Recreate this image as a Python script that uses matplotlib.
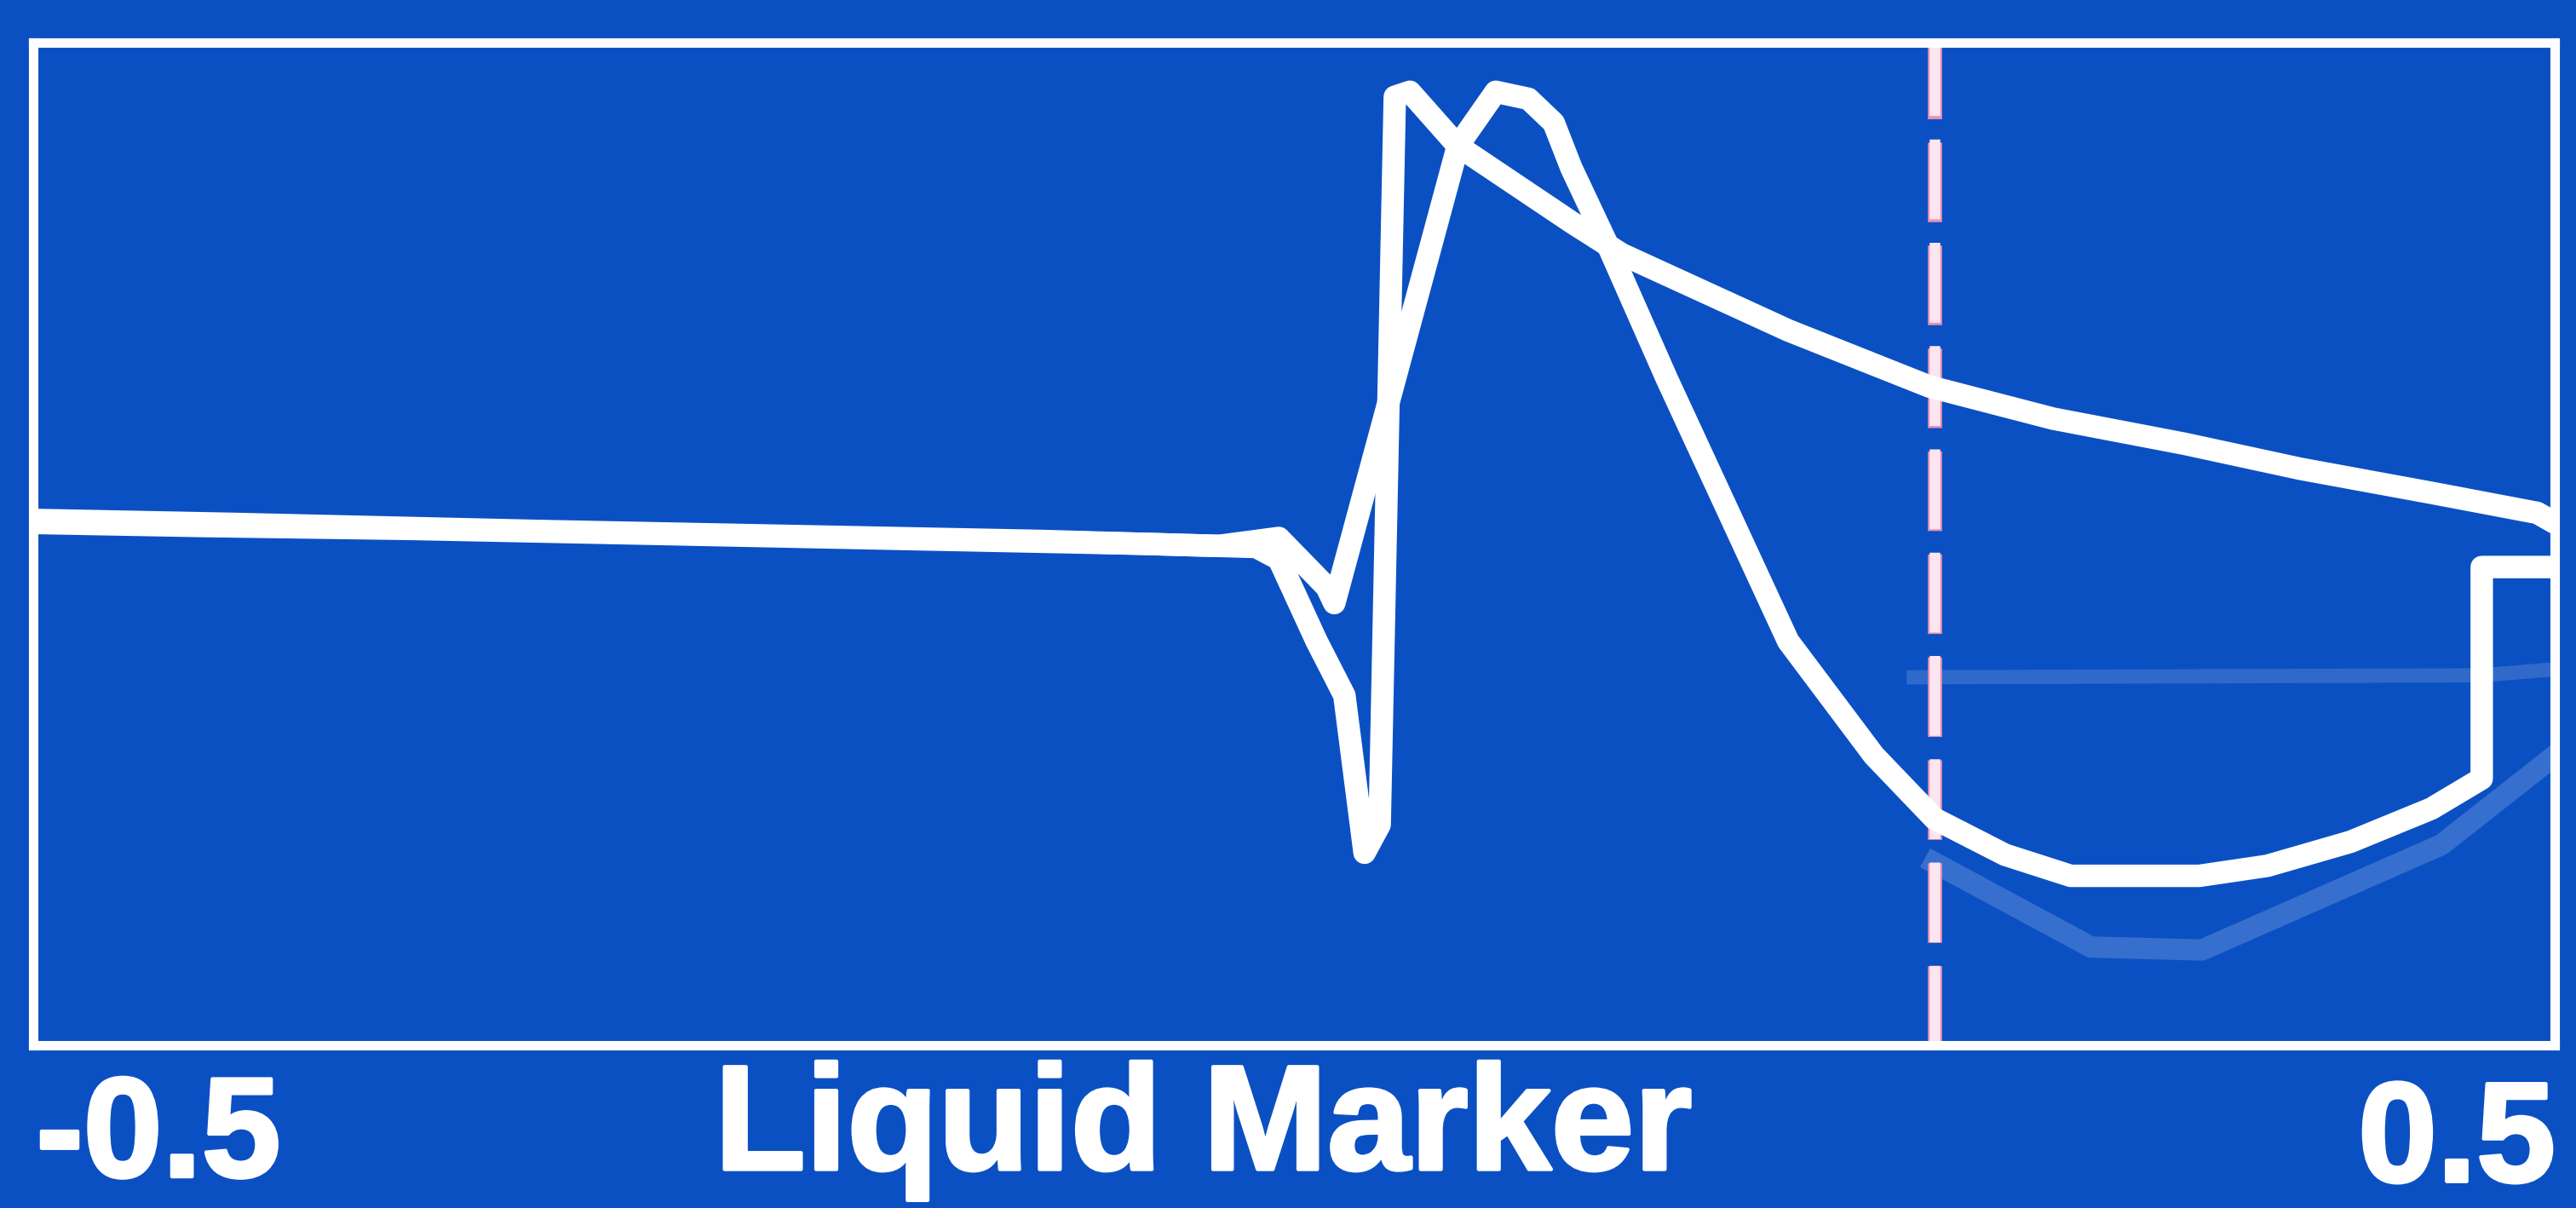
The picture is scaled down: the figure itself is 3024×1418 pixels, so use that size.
import matplotlib.pyplot as plt
import matplotlib.patheffects as pe

# screen trace (x: marker position, y: signal in % of frame height)
trace_a_x = [-0.500, -0.435, -0.350, -0.252, -0.155, -0.057, -0.015, -0.006, 0.009, 0.020,
             0.028, 0.034, 0.040, 0.046, 0.065, 0.110, 0.130, 0.196, 0.252, 0.301,
             0.353, 0.399, 0.451, 0.493, 0.500]
trace_a_y = [52.1, 51.8, 51.5, 51.0, 50.5, 50.0, 49.7, 48.5, 40.3, 34.9,
             19.2, 22.0, 94.6, 95.1, 89.7, 82.1, 78.9, 71.3, 65.7, 62.5,
             60.0, 57.5, 55.1, 53.1, 52.1]

trace_b_x = [-0.500, -0.420, -0.300, -0.200, -0.100, -0.030, -0.006, 0.013, 0.016, 0.065,
             0.080, 0.093, 0.103, 0.110, 0.125, 0.148, 0.171, 0.196, 0.230, 0.254,
             0.282, 0.308, 0.359, 0.386, 0.419, 0.451, 0.471, 0.471, 0.500]
trace_b_y = [52.4, 52.0, 51.3, 50.8, 50.3, 49.8, 50.6, 45.7, 44.1, 89.7,
             95.1, 94.4, 92.0, 87.5, 79.5, 66.4, 53.9, 40.3, 28.9, 22.6,
             19.0, 16.9, 16.9, 17.9, 20.3, 23.6, 26.6, 47.7, 47.7]

# faded ghost traces left on the screen
ghost_band_x = [0.243, 0.471, 0.500]
ghost_band_y = [36.7, 36.9, 37.5]
ghost_low_x = [0.254, 0.316, 0.360, 0.455, 0.500]
ghost_low_y = [18.2, 9.8, 9.5, 20.0, 28.9]

marker_x = 0.254
x_min_label, x_max_label = "-0.5", "0.5"
axis_title = "Liquid Marker"

bg = "#0b50c3"
fig = plt.figure(figsize=(30.24, 14.18), dpi=100, facecolor=bg)
ax = fig.add_axes([0.0128, 0.1347, 0.979, 0.830], facecolor=bg)

ax.plot(ghost_band_x, ghost_band_y, color="white", lw=12, alpha=0.15, solid_capstyle="butt")
ax.plot(ghost_low_x, ghost_low_y, color="white", lw=18, alpha=0.18, solid_joinstyle="round")

# marker: pink edge under a whitish core, same dash length in points
ax.axvline(marker_x, color="#e98fb3", lw=12, linestyle=(0, (5.6, 1.65)), zorder=2)
ax.axvline(marker_x, color="#fbe6ef", lw=9, linestyle=(0, (7.5, 2.2)), zorder=2)

for xs, ys in [(trace_a_x, trace_a_y), (trace_b_x, trace_b_y)]:
    ax.plot(xs, ys, color="white", lw=19, solid_joinstyle="round",
            solid_capstyle="round", zorder=3)

ax.set_xlim(-0.5, 0.5)
ax.set_ylim(0, 100)
ax.set_xticks([])
ax.set_yticks([])
for s in ax.spines.values():
    s.set_color("white")
    s.set_linewidth(8)

fam = ["Liberation Sans", "DejaVu Sans"]
glow = [pe.withStroke(linewidth=3, foreground="white")]
fig.text(0.014, 0.026, x_min_label, color="white", fontsize=120, fontweight="bold",
         family=fam, ha="left", va="baseline", path_effects=glow)
fig.text(0.2774, 0.032, axis_title, color="white", fontsize=126, fontweight="bold",
         family=fam, ha="left", va="baseline", path_effects=glow)
fig.text(0.992, 0.022, x_max_label, color="white", fontsize=120, fontweight="bold",
         family=fam, ha="right", va="baseline", path_effects=glow)

fig.savefig("out.png", dpi=100, facecolor=bg)
